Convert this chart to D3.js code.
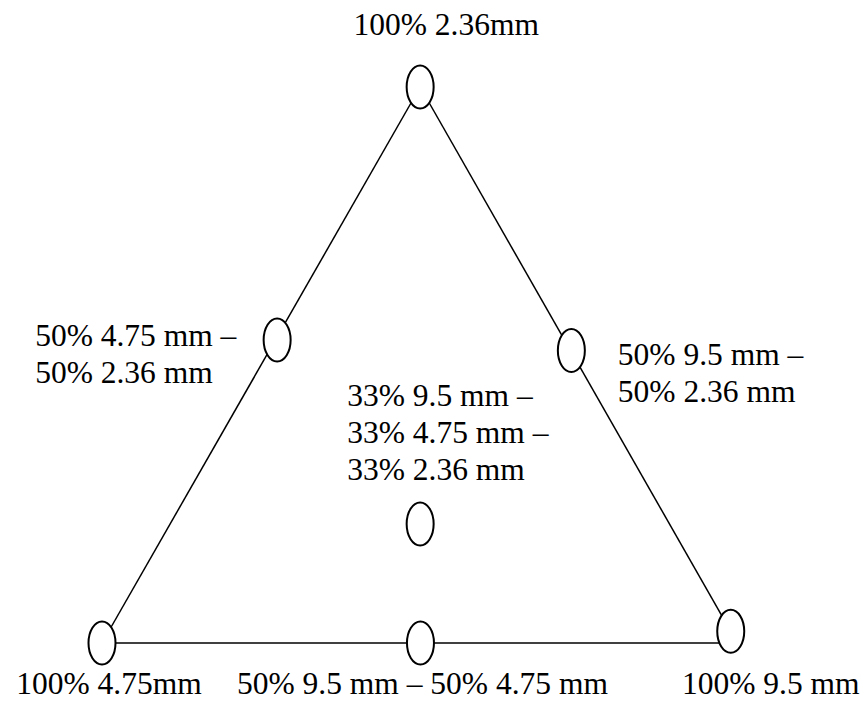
<!DOCTYPE html>
<html>
<head>
<meta charset="utf-8">
<script src="https://cdn.jsdelivr.net/npm/d3@7"></script>
<style>
  html, body { margin: 0; padding: 0; background: #fff; }
  svg { display: block; }
  text { font-family: "Liberation Serif", "Times New Roman", serif; fill: #000; }
</style>
</head>
<body>
<div id="chart"></div>
<script>
// ---- data ----
const pointIds = ["v236", "v475", "v95", "m475_236", "m95_236", "m95_475", "centre"];
const pct95  = [0, 0, 100, 0, 50, 50, 33];
const pct475 = [0, 100, 0, 50, 0, 50, 33];
const pct236 = [100, 0, 0, 50, 50, 0, 33];
// diagram position (0..1 across base, 0..1 up the height)
const posX = [0.505, 0, 0.998, 0.278, 0.745, 0.5055, 0.505];
const posY = [1, 0, 0.021, 0.545, 0.526, 0, 0.214];
const labelLines = [
  ["100% 2.36mm"],
  ["100% 4.75mm"],
  ["100% 9.5 mm"],
  ["50% 4.75 mm \u2013", "50% 2.36 mm"],
  ["50% 9.5 mm \u2013", "50% 2.36 mm"],
  ["50% 9.5 mm \u2013 50% 4.75 mm"],
  ["33% 9.5 mm \u2013", "33% 4.75 mm \u2013", "33% 2.36 mm"]
];
// triangle edges (point index pairs); bottom edge runs along the base to the right corner
const edgeFrom = [0, 1, 0];
const edgeTo   = [1, "base", 2];

// ---- layout ----
const W = 865, H = 702;
const x = d3.scaleLinear().domain([0, 1]).range([102, 732]);
const y = d3.scaleLinear().domain([0, 1]).range([643, 87]);
const fontSize = 31.5;
const lineH = 37;
// label placement relative to each point: anchor, dx, dy (first baseline)
const labelLayout = [
  { anchor: "middle", dx: 26, dy: -52 },
  { anchor: "middle", dx: 7, base: 51 },
  { anchor: "middle", dx: 40, base: 51 },
  { anchor: "start", dx: -242, dy: 6 },
  { anchor: "start", dx: 46.5, dy: 14.5 },
  { anchor: "middle", dx: 2, base: 51 },
  { anchor: "start", dx: -73, dy: -118 }
];

const svg = d3.select("#chart").append("svg")
  .attr("width", W).attr("height", H);

const pts = pointIds.map((id, i) => ({
  id, a: pct95[i], b: pct475[i], c: pct236[i],
  px: x(posX[i]), py: y(posY[i]), lines: labelLines[i], lay: labelLayout[i]
}));

const endPt = (k) => k === "base" ? { px: x(1), py: y(0) } : pts[k];

svg.append("g").selectAll("line")
  .data(edgeFrom.map((f, i) => [endPt(f), endPt(edgeTo[i])]))
  .join("line")
  .attr("x1", d => d[0].px).attr("y1", d => d[0].py)
  .attr("x2", d => d[1].px).attr("y2", d => d[1].py)
  .attr("stroke", "#000").attr("stroke-width", 1.5);

svg.append("g").selectAll("ellipse")
  .data(pts)
  .join("ellipse")
  .attr("cx", d => d.px).attr("cy", d => d.py)
  .attr("rx", 13.5).attr("ry", 21.5)
  .attr("fill", "#fff").attr("stroke", "#000").attr("stroke-width", 2);

const lbl = svg.append("g").selectAll("text")
  .data(pts)
  .join("text")
  .attr("text-anchor", d => d.lay.anchor)
  .attr("font-size", fontSize);

lbl.each(function(d) {
  const t = d3.select(this);
  const bx = d.px + d.lay.dx;
  const by = d.lay.base !== undefined ? y(0) + d.lay.base : d.py + d.lay.dy;
  d.lines.forEach((s, j) => {
    t.append("tspan").attr("x", bx).attr("y", by + j * lineH).text(s);
  });
});
</script>
</body>
</html>
